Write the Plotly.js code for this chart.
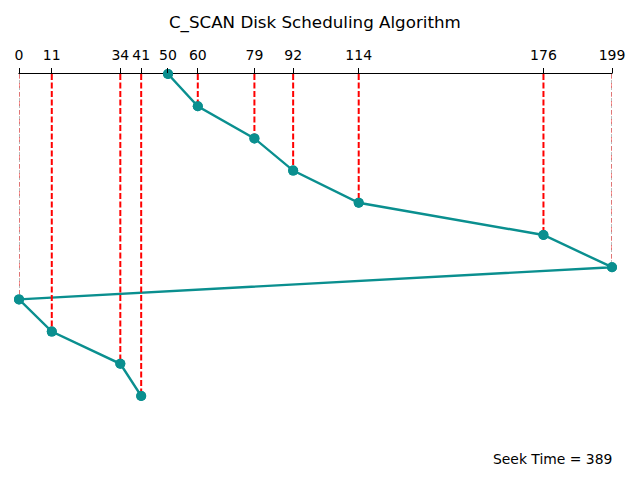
<!DOCTYPE html>
<html>
<head>
<meta charset="utf-8">
<script src="https://cdn.plot.ly/plotly-3.0.1.min.js"></script>
<style>html,body{margin:0;padding:0;background:#fff}#chart{width:640px;height:480px}</style>
</head>
<body>
<div id="chart"></div>
<script>
// Data
const seekOrder = [50, 60, 79, 92, 114, 176, 199, 0, 11, 34, 41];
const stepIndex = [0, -1, -2, -3, -4, -5, -6, -7, -8, -9, -10];
const requests = [176, 79, 34, 60, 92, 11, 41, 114];
const boundaries = [0, 199];
const tickValues = [0, 11, 34, 41, 50, 60, 79, 92, 114, 176, 199];
const seekTime = 389;
const titleText = "C_SCAN Disk Scheduling Algorithm";

const FONT = "DejaVu Sans, sans-serif";
const TEAL = "#0a8f8f";

const traces = [];
// boundary guide lines (gray dashed + red thin dashed)
boundaries.forEach(b => {
  const i = seekOrder.indexOf(b);
  traces.push({x:[b,b], y:[0, stepIndex[i]], mode:"lines", hoverinfo:"skip", showlegend:false,
    line:{color:"#777777", width:1, dash:"4px,2px"}});
  traces.push({x:[b,b], y:[0, stepIndex[i]], mode:"lines", hoverinfo:"skip", showlegend:false,
    line:{color:"#ff3030", width:1, dash:"5px,4px"}});
});
// head movement path
traces.push({x:seekOrder, y:stepIndex, mode:"lines+markers", showlegend:false, cliponaxis:false,
  line:{color:TEAL, width:2.4}, marker:{color:TEAL, size:10}});
// request lines (red dashed)
requests.forEach(r => {
  const i = seekOrder.indexOf(r);
  traces.push({x:[r,r], y:[0, stepIndex[i]], mode:"lines", hoverinfo:"skip", showlegend:false,
    line:{color:"#ff0000", width:2, dash:"6px,2.5px"}});
});
// markers on top
traces.push({x:seekOrder, y:stepIndex, mode:"markers", showlegend:false, cliponaxis:false,
  hoverinfo:"skip", marker:{color:TEAL, size:10}});

const layout = {
  width:640, height:480,
  paper_bgcolor:"#ffffff", plot_bgcolor:"#ffffff",
  margin:{l:19, r:28, t:74, b:84, pad:0},
  font:{family:FONT, size:13.9, color:"#000"},
  title:{text:titleText, font:{family:FONT, size:16.7, color:"#000"}, x:0.492, xanchor:"center", y:0.954, yanchor:"middle"},
  xaxis:{range:[0,199], side:"top", showgrid:false, zeroline:false, showline:false,
    ticks:"outside", ticklen:5, tickwidth:1, tickcolor:"#000",
    tickmode:"array", tickvals:tickValues, ticktext:tickValues.map(String), ticklabelstandoff:2,
    tickfont:{family:FONT, size:14, color:"#000"}, fixedrange:true},
  yaxis:{range:[-10,0], visible:false, showgrid:false, zeroline:false, fixedrange:true},
  shapes:[{type:"line", xref:"paper", yref:"paper", x0:-0.0009, x1:1.0009, y0:1.00155, y1:1.00155, layer:"below",
    line:{color:"#000", width:1}}],
  annotations:[{text:"Seek Time = " + seekTime, xref:"paper", yref:"paper", x:1.003, y:-0.196,
    xanchor:"right", yanchor:"middle", showarrow:false, font:{family:FONT, size:13.9, color:"#000"}}]
};

Plotly.newPlot("chart", traces, layout, {staticPlot:true, displayModeBar:false});
</script>
</body>
</html>
